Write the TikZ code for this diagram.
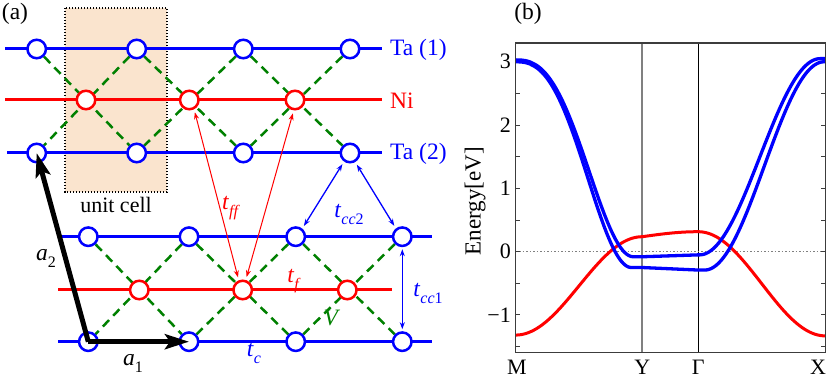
\documentclass[tikz,border=0pt]{standalone}
\usepackage{fontspec}
\setmainfont{Liberation Serif}
\usetikzlibrary{arrows.meta}
\definecolor{cellfill}{RGB}{250,228,206}
\definecolor{vgreen}{RGB}{0,128,0}
\definecolor{axgray}{RGB}{128,128,128}
\definecolor{boxgray}{RGB}{60,60,60}
\newcommand{\mysub}[1]{\raisebox{-0.3em}{\fontsize{16}{17}\selectfont #1}}
\pgfdeclarelayer{back}\pgfdeclarelayer{bg}\pgfsetlayers{back,bg,main}
\begin{document}
\begin{tikzpicture}[x=1pt,y=-1pt,font=\fontsize{22}{25}\selectfont,
 tac/.style={circle,draw=blue,fill=white,line width=2.5pt,minimum size=18.5pt,inner sep=0pt},
 nic/.style={circle,draw=red,fill=white,line width=2.5pt,minimum size=18.5pt,inner sep=0pt},
 taline/.style={blue,line width=3pt},
 niline/.style={red,line width=3pt},
 vbond/.style={vgreen,line width=2.5pt,dash pattern=on 9pt off 6pt},
 latvec/.style={black,line width=5pt,-{Stealth[length=24pt,width=15pt,inset=5pt]}},
 ffarrow/.style={red,line width=1pt,{Stealth[length=7pt,width=5pt]}-{Stealth[length=7pt,width=5pt]}},
 ccarrow/.style={blue,line width=1.3pt,{Stealth[length=7pt,width=5pt]}-{Stealth[length=7pt,width=5pt]}},
 lbl/.style={inner sep=0pt},
 big/.style={font=\fontsize{23.5}{26}\selectfont},
 blueband/.style={blue,line width=3.3pt,line join=round},
 redband/.style={red,line width=3pt,line join=round}]
\useasboundingbox (0,0) rectangle (830,379);

% ---------------- panel (a) ----------------
\node[lbl,big] (pa) at (15,14) {(a)};

% top lattice
\node[tac] (t1a) at (36.7,49) {};
\node[tac] (t1b) at (136.7,49) {};
\node[tac] (t1c) at (243.3,49) {};
\node[tac] (t1d) at (350,49) {};
\node[nic] (n1a) at (86,100) {};
\node[nic] (n1b) at (189.3,100) {};
\node[nic] (n1c) at (295,100) {};
\node[tac] (t2a) at (36.7,153) {};
\node[tac] (t2b) at (136.7,153) {};
\node[tac] (t2c) at (243.3,153) {};
\node[tac] (t2d) at (350,153) {};

% bottom lattice
\node[tac] (u1a) at (88.3,236.7) {};
\node[tac] (u1b) at (189,236.7) {};
\node[tac] (u1c) at (295.7,236.7) {};
\node[tac] (u1d) at (402.3,236.7) {};
\node[nic] (m1a) at (139.3,290) {};
\node[nic] (m1b) at (242.7,290) {};
\node[nic] (m1c) at (347.3,290) {};
\node[tac] (b1a) at (88.3,341.7) {};
\node[tac] (b1b) at (189,341.7) {};
\node[tac] (b1c) at (295.7,341.7) {};
\node[tac] (b1d) at (402.3,341.7) {};

% line end points
\coordinate (l1L) at (5,49);     \coordinate (l1R) at (382,49);
\coordinate (l2L) at (5,100);    \coordinate (l2R) at (382,100);
\coordinate (l3L) at (7,153);    \coordinate (l3R) at (382,153);
\coordinate (l4L) at (58,236.7); \coordinate (l4R) at (432,236.7);
\coordinate (l5L) at (58,290);   \coordinate (l5R) at (392,290);
\coordinate (l6L) at (58,341.7); \coordinate (l6R) at (432,341.7);

\begin{pgfonlayer}{back}
  \draw[fill=cellfill,draw=black,line width=1.4pt,dash pattern=on 1.4pt off 1.6pt] (65,8) rectangle (167,192);
\end{pgfonlayer}
\begin{pgfonlayer}{bg}
  \draw[taline] (l1L) -- (l1R);
  \draw[niline] (l2L) -- (l2R);
  \draw[taline] (l3L) -- (l3R);
  \draw[taline] (l4L) -- (l4R);
  \draw[niline] (l5L) -- (l5R);
  \draw[taline] (l6L) -- (l6R);
  \draw[vbond] (t1a) -- (t2b);
  \draw[vbond] (t1b) -- (t2a);
  \draw[vbond] (t1b) -- (t2c);
  \draw[vbond] (t1c) -- (t2b);
  \draw[vbond] (t1c) -- (t2d);
  \draw[vbond] (t1d) -- (t2c);
  \draw[vbond] (u1a) -- (b1b);
  \draw[vbond] (u1b) -- (b1a);
  \draw[vbond] (u1b) -- (b1c);
  \draw[vbond] (u1c) -- (b1b);
  \draw[vbond] (u1c) -- (b1d);
  \draw[vbond] (u1d) -- (b1c);
\end{pgfonlayer}

\node[lbl,big,anchor=west,blue] (lta1) at (390,50) {Ta (1)};
\node[lbl,big,anchor=west,red] (lni) at (390,101) {Ni};
\node[lbl,big,anchor=west,blue] (lta2) at (390,154) {Ta (2)};
\node[lbl] (luc) at (116,205) {unit cell};

% hopping arrows
\draw[ffarrow,shorten <=3pt,shorten >=3pt] (n1b.-63) -- (m1b.112);
\draw[ffarrow,shorten <=3pt,shorten >=3pt] (n1c.-97) -- (m1b.73);
\draw[ccarrow,shorten <=3pt,shorten >=3pt] (t2d.-125) -- (u1c.51);
\draw[ccarrow,shorten <=3pt,shorten >=3pt] (t2d.-60) -- (u1d.128);
\draw[ccarrow,shorten <=2pt,shorten >=2pt] (u1d.south) -- (b1d.north);

% lattice vectors
\draw[latvec] (b1a.center) -- (t2a.center);
\draw[latvec] (b1a.center) -- (b1b.center);

% labels
\node[lbl,big,red] (ltff) at (231,208) {\textit{t}\mysub{\textit{ff}}};
\node[lbl,big,blue] (ltcc2) at (349,214) {\textit{t}\mysub{\textit{cc}2}};
\node[lbl,big,blue] (ltcc1) at (428,293) {\textit{t}\mysub{\textit{cc}1}};
\node[lbl,big,red] (ltf) at (294,281) {\textit{t}\mysub{\textit{f}}};
\node[lbl,big,vgreen] (lV) at (332,318) {\textit{V}};
\node[lbl,big,blue] (ltc) at (254,353) {\textit{t}\mysub{\textit{c}}};
\node[lbl,big] (la1) at (133,363) {\textit{a}\mysub{1}};
\node[lbl,big] (la2) at (46,258) {\textit{a}\mysub{2}};

% ---------------- panel (b) ----------------
\node[lbl,big] (pb) at (528,14) {(b)};

\draw[axgray,line width=2pt] (642.3,43) -- (642.3,352.7);
\draw[black,line width=0.9pt] (698.3,43) -- (698.3,352.7);
\draw[axgray,line width=1pt,dash pattern=on 1.5pt off 2pt] (515.7,251.7) -- (825.3,251.7);
\foreach \e in {-1.5,-1,-0.5,0,0.5,1,1.5,2,2.5,3}{
  \draw[boxgray,line width=1pt] (515.7,{251.7-63.3*\e}) -- ++(4.5,0);
  \draw[boxgray,line width=1pt] (825.3,{251.7-63.3*\e}) -- ++(-4.5,0);
}
\foreach \e/\s in {3/3,2/2,1/1,0/0,-1/−1}{
  \node[lbl,anchor=east] at (511,{251.7-63.3*\e}) {\s};
}
\node[lbl,rotate=90,font=\fontsize{23}{26}\selectfont] (ylab) at (475,201) {Energy[eV]};
\node[lbl,anchor=base] (kM) at (517,374.5) {M};
\node[lbl,anchor=base] (kY) at (642.3,374.5) {Y};
\node[lbl,anchor=base] (kG) at (698.3,374.5) {Γ};
\node[lbl,anchor=base] (kX) at (818,374.5) {X};

% bands
\draw[redband]
  plot[domain=0:1,samples=50,variable=\t] ({515.7+126.6*\t},{251.7-63.3*(-0.54-0.777*cos(180*\t))})
  -- plot[domain=0:1,samples=20,variable=\t] ({642.3+56*\t},{251.7-63.3*(0.237+0.079*sin(90*\t))})
  -- plot[domain=0:1,samples=50,variable=\t] ({698.3+127*\t},{251.7-63.3*(-0.507+0.823*cos(180*\t))});
\draw[blueband]
  plot[domain=0:1,samples=80,variable=\t] ({515.7+126.6*\t},{251.7-63.3*(3.03-3.11*(1-cos(180*min(1.10*\t^1.3,1)))/2)})
  -- plot[domain=0:1,samples=20,variable=\t] ({642.3+56*\t},{251.7-63.3*(-0.08+0.03*\t)})
  -- plot[domain=0:1,samples=80,variable=\t] ({698.3+127*\t},{251.7-63.3*(-0.05+3.10*(1-cos(180*min(max((\t-0.01)/0.95,0),1)))/2)});
\draw[blueband]
  plot[domain=0:1,samples=80,variable=\t] ({515.7+126.6*\t},{251.7-63.3*(3.00-3.25*(1-cos(180*min(1.124*\t^1.3,1)))/2)})
  -- plot[domain=0:1,samples=20,variable=\t] ({642.3+56*\t},{251.7-63.3*(-0.25-0.04*\t)})
  -- plot[domain=0:1,samples=80,variable=\t] ({698.3+127*\t},{251.7-63.3*(-0.29+3.29*(1-cos(180*min(max((\t-0.05)/0.94,0),1)))/2)});

\draw[boxgray,line width=1.3pt] (515.7,43) rectangle (825.3,352.7);
\end{tikzpicture}
\end{document}
